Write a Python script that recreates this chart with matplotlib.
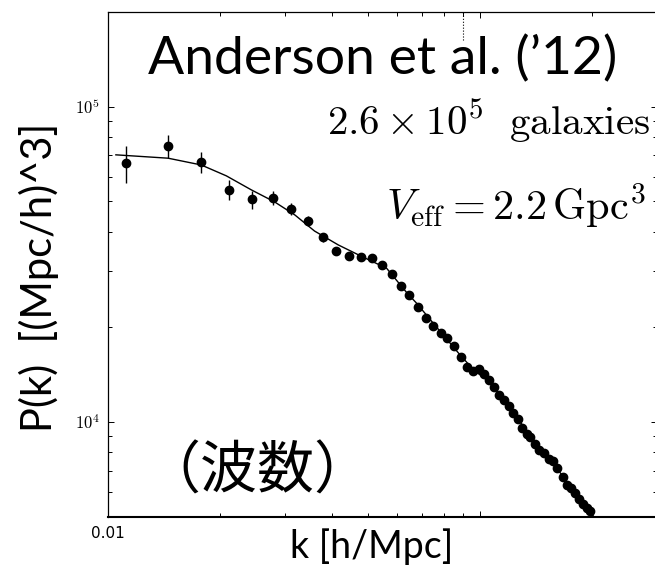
import matplotlib
matplotlib.use('Agg')
import matplotlib.pyplot as plt
from matplotlib.ticker import LogLocator, NullFormatter, FixedLocator, FixedFormatter

plt.rcParams['mathtext.fontset'] = 'cm'

# band powers, BOSS CMASS (Anderson et al. 2012)
k_data = [0.0112, 0.0145, 0.0178, 0.0211, 0.0244, 0.0277, 0.0310, 0.0344, 0.0378, 0.0411,
          0.0445, 0.0478, 0.0512, 0.0545, 0.0579, 0.0612, 0.0646, 0.0681, 0.0716, 0.0749,
          0.0784, 0.0815, 0.0853, 0.0887, 0.0921, 0.0956, 0.0991, 0.1023, 0.1060, 0.1090,
          0.1127, 0.1160, 0.1195, 0.1229, 0.1265, 0.1297, 0.1335, 0.1363, 0.1403, 0.1443,
          0.1486, 0.1536, 0.1574, 0.1614, 0.1675, 0.1711, 0.1753, 0.1797, 0.1842, 0.1888,
          0.1936, 0.1976]
pk_data = [66100, 75000, 66600, 54400, 50800, 51400, 47300, 43500, 38500, 34800,
           33600, 33300, 33000, 31400, 29400, 27000, 25300, 23200, 21300, 20200,
           19200, 18400, 17400, 16050, 14900, 14500, 14700, 14200, 13600, 12900,
           12200, 11700, 11200, 10700, 10200, 9530, 9120, 8960, 8500, 8130,
           7940, 7600, 7520, 7160, 6690, 6300, 6150, 5950, 5710, 5470,
           5310, 5200]
# errors only resolved at large scales
pk_err = [8800, 6200, 5100, 4000, 3300, 2500, 2000, 1600, 1300, 1100]

# best-fit model
k_model = [0.0105, 0.0145, 0.0178, 0.0208, 0.0243, 0.028, 0.0318, 0.0359, 0.0416, 0.048,
           0.0561, 0.0637, 0.0675, 0.075, 0.082, 0.0884, 0.0962, 0.105, 0.115, 0.125,
           0.135, 0.15, 0.165, 0.18, 0.1976, 0.21]
pk_model = [70300, 68600, 65300, 60300, 54400, 49900, 45300, 40300, 36400, 33500,
            30700, 25600, 23800, 20500, 18100, 16300, 14600, 13500, 11900, 10450,
            9150, 7850, 6850, 5950, 5200, 4700]

fig = plt.figure(figsize=(6.55, 5.68), dpi=100)
ax = fig.add_axes([0.1649, 0.0903, 0.8389, 0.8891])

ax.plot(k_model, pk_model, color='black', lw=1.0, zorder=2)
ax.errorbar(k_data[:len(pk_err)], pk_data[:len(pk_err)], yerr=pk_err, fmt='none',
            ecolor='black', elinewidth=1.0, capsize=0, zorder=3)
ax.plot(k_data, pk_data, 'o', color='black', ms=6, mec='black', zorder=4)

ax.set_xscale('log')
ax.set_yscale('log')
ax.set_xlim(0.01, 0.3)
ax.set_ylim(5000, 2.0e5)

ax.xaxis.set_major_locator(FixedLocator([0.01, 0.1]))
ax.xaxis.set_major_formatter(FixedFormatter(['0.01', '']))
ax.xaxis.set_minor_locator(LogLocator(base=10, subs=range(2, 10)))
ax.xaxis.set_minor_formatter(NullFormatter())
ax.yaxis.set_major_locator(FixedLocator([1e4, 1e5]))
ax.yaxis.set_major_formatter(FixedFormatter([r'$10^4$', r'$10^5$']))
ax.yaxis.set_minor_locator(LogLocator(base=10, subs=range(2, 10)))
ax.yaxis.set_minor_formatter(NullFormatter())

ax.tick_params(which='both', direction='in', top=True, right=True, width=0.7)
ax.tick_params(which='major', length=4.5)
ax.tick_params(which='minor', length=3.2)
ax.tick_params(axis='y', labelsize=12, pad=6)
ax.tick_params(axis='x', labelsize=11, pad=7)
for side in ['left', 'top', 'right']:
    ax.spines[side].set_linewidth(0.9)
ax.spines['bottom'].set_linewidth(1.5)

# dotted marker hanging from the top axis
ax.axvline(0.09, ymin=0.944, ymax=1.0, ls=':', color='black', lw=0.8)

fig.text(0.226, 0.8697, 'Anderson et al. (\u201912)', family='Lato', fontsize=38.5,
         ha='left', va='baseline')
fig.text(0.9924, 0.7623, r'$2.6\times10^5\ \ \mathrm{galaxies}$', fontsize=29.5,
         ha='right', va='baseline')
fig.text(0.9865, 0.6127, r'$V_{\rm eff}=2.2\,{\rm Gpc}^3$', fontsize=30.5,
         ha='right', va='baseline')
fig.text(0.3924, 0.169, '（波数）', family=['Noto Sans CJK JP', 'DejaVu Sans'],
         fontsize=41, ha='center', va='center')
fig.text(0.568, 0.0176, 'k [h/Mpc]', family='Lato', fontsize=27,
         ha='center', va='baseline')
fig.text(0.0588, 0.5123, 'P(k)  [(Mpc/h)^3]', family='Lato', fontsize=30,
         rotation=90, ha='center', va='center')

fig.savefig('out.png', dpi=100)
